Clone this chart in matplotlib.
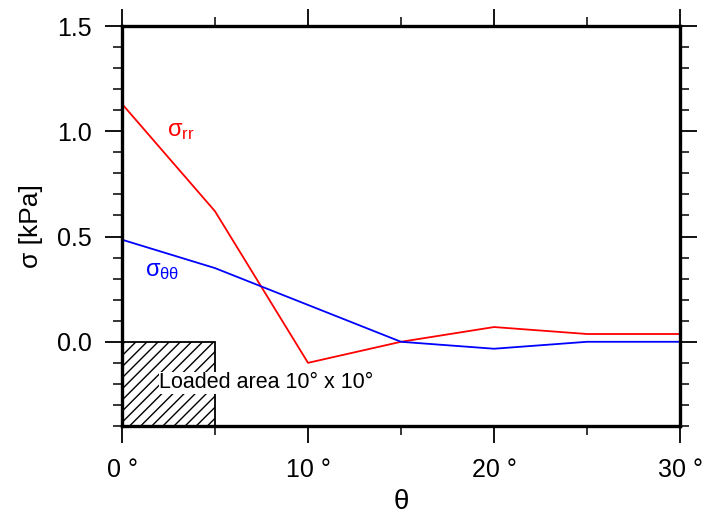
import matplotlib
matplotlib.use("Agg")
import matplotlib.pyplot as plt
from matplotlib.ticker import MultipleLocator, FixedLocator
from matplotlib.patches import Rectangle

theta = [0, 5, 10, 15, 20, 25, 30]
sigma_rr = [1.13, 0.62, -0.10, 0.0, 0.07, 0.037, 0.037]
sigma_tt = [0.485, 0.35, 0.175, 0.0, -0.033, 0.0, 0.0]
xtick_vals = [0, 10, 20, 30]
xtick_labels = ["0 °", "10 °", "20 °", "30 °"]
ytick_vals = [0.0, 0.5, 1.0, 1.5]
ytick_labels = ["0.0", "0.5", "1.0", "1.5"]

plt.rcParams['font.family'] = ['Liberation Sans', 'DejaVu Sans']
plt.rcParams['hatch.linewidth'] = 1.0
plt.rcParams['mathtext.fontset'] = 'custom'
plt.rcParams['mathtext.rm'] = 'Liberation Sans'
plt.rcParams['mathtext.it'] = 'Liberation Sans'
plt.rcParams['mathtext.bf'] = 'Liberation Sans:bold'

fig = plt.figure(figsize=(7.04, 5.20), dpi=100)
ax = fig.add_axes([122/704, 94/520, (680-122)/704, (426-26)/520])

ax.plot(theta, sigma_rr, color='#ff0000', lw=1.3)
ax.plot(theta, sigma_tt, color='#0000ff', lw=1.3)

ax.add_patch(Rectangle((0, -0.4), 5, 0.4, facecolor='none', edgecolor='black',
                       hatch='///', lw=1.3, zorder=1))
ax.text(2.0, -0.195, "Loaded area 10° x 10°", fontsize=15.5, va='center', ha='left',
        bbox=dict(facecolor='white', edgecolor='none', pad=0.5), zorder=3)

ax.text(2.4, 1.0, r"$\sigma_{rr}$", color='#ff0000', fontsize=17, ha='left', va='center')
ax.text(1.25, 0.335, r"$\sigma_{\theta\theta}$", color='#0000ff', fontsize=17, ha='left', va='center')

ax.set_xlim(0, 30)
ax.set_ylim(-0.4, 1.5)
ax.xaxis.set_major_locator(FixedLocator(xtick_vals))
ax.set_xticklabels(xtick_labels)
ax.xaxis.set_minor_locator(MultipleLocator(5))
ax.yaxis.set_major_locator(FixedLocator(ytick_vals))
ax.set_yticklabels(ytick_labels)
ax.yaxis.set_minor_locator(MultipleLocator(0.1))

ax.tick_params(which='major', direction='out', length=12, width=1.3, labelsize=18,
               top=True, right=True, pad=10)
ax.tick_params(which='minor', direction='out', length=6.5, width=1.1,
               top=True, right=True)
ax.tick_params(axis='x', which='major', pad=11)
for s in ax.spines.values():
    s.set_linewidth(2.4)

ax.set_xlabel("θ", fontsize=20, labelpad=5)
ax.set_ylabel("σ [kPa]", fontsize=19, labelpad=10)

fig.savefig("out.png", dpi=100)
